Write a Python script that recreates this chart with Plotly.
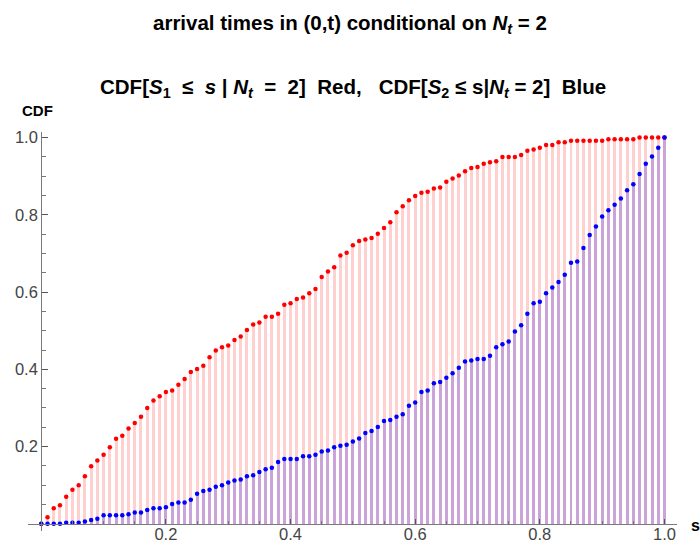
import plotly.graph_objects as go

# grid of s values in (0, 1)
s_vals = [round(i * 0.01, 2) for i in range(101)]

# empirical CDF of the first arrival S1 given N_t = 2
cdf_s1 = [
    0.000, 0.017, 0.040, 0.048, 0.070, 0.088, 0.100, 0.123, 0.149, 0.164,
    0.179, 0.198, 0.220, 0.228, 0.247, 0.261, 0.277, 0.300, 0.319, 0.330,
    0.341, 0.345, 0.360, 0.375, 0.393, 0.401, 0.409, 0.431, 0.449, 0.457,
    0.462, 0.476, 0.485, 0.502, 0.516, 0.521, 0.536, 0.536, 0.544, 0.567,
    0.571, 0.582, 0.586, 0.597, 0.608, 0.639, 0.653, 0.664, 0.695, 0.702,
    0.721, 0.732, 0.736, 0.740, 0.751, 0.766, 0.781, 0.807, 0.822, 0.838,
    0.849, 0.857, 0.860, 0.868, 0.871, 0.886, 0.894, 0.902, 0.913, 0.921,
    0.924, 0.932, 0.936, 0.939, 0.950, 0.950, 0.950, 0.955, 0.966, 0.969,
    0.974, 0.981, 0.981, 0.988, 0.988, 0.992, 0.992, 0.992, 0.992, 0.992,
    0.992, 0.996, 0.996, 0.996, 0.996, 0.996, 1.000, 1.000, 1.000, 1.000,
    1.000,
]

# empirical CDF of the second arrival S2 given N_t = 2
cdf_s2 = [
    0.000, 0.000, 0.000, 0.000, 0.003, 0.003, 0.003, 0.006, 0.010, 0.013,
    0.022, 0.022, 0.022, 0.022, 0.025, 0.029, 0.029, 0.036, 0.040, 0.040,
    0.043, 0.051, 0.055, 0.055, 0.062, 0.078, 0.085, 0.088, 0.096, 0.100,
    0.107, 0.112, 0.115, 0.123, 0.126, 0.134, 0.141, 0.145, 0.160, 0.168,
    0.168, 0.168, 0.175, 0.175, 0.179, 0.187, 0.190, 0.198, 0.202, 0.205,
    0.213, 0.221, 0.235, 0.240, 0.251, 0.266, 0.269, 0.277, 0.284, 0.306,
    0.314, 0.341, 0.345, 0.364, 0.367, 0.378, 0.390, 0.404, 0.420, 0.423,
    0.427, 0.427, 0.435, 0.457, 0.465, 0.472, 0.498, 0.514, 0.544, 0.571,
    0.575, 0.597, 0.612, 0.626, 0.645, 0.676, 0.679, 0.714, 0.748, 0.770,
    0.796, 0.812, 0.826, 0.842, 0.864, 0.879, 0.906, 0.932, 0.951, 0.974,
    1.000,
]

major_ticks = [0.2, 0.4, 0.6, 0.8, 1.0]
tick_text = ["0.2", "0.4", "0.6", "0.8", "1.0"]
minor_ticks = [round(i * 0.05, 2) for i in range(1, 21) if i % 4 != 0]

x_range = [-0.0213, 1.0201]
y_range = [-0.0186, 1.0145]

FONT = "Liberation Sans, Arial, sans-serif"
AXIS_COLOR = "#7a7a7a"
TICK_FONT = dict(family=FONT, size=16.5, color="#444444")

fig = go.Figure()

# filling from each point down to the axis
fig.add_trace(go.Bar(x=s_vals, y=cdf_s1, width=0.0048,
                     marker=dict(color="#ffd0d0", line=dict(width=0)),
                     hoverinfo="skip", showlegend=False))
fig.add_trace(go.Bar(x=s_vals, y=cdf_s2, width=0.0048,
                     marker=dict(color="#caa3d9", line=dict(width=0)),
                     hoverinfo="skip", showlegend=False))

# the points themselves
fig.add_trace(go.Scatter(x=s_vals, y=cdf_s1, mode="markers",
                         marker=dict(color="#ff0000", size=4.5),
                         cliponaxis=False, showlegend=False))
fig.add_trace(go.Scatter(x=s_vals, y=cdf_s2, mode="markers",
                         marker=dict(color="#0000ff", size=4.5),
                         cliponaxis=False, showlegend=False))

fig.update_layout(
    width=700, height=544,
    margin=dict(l=28, r=23, t=132, b=13),
    paper_bgcolor="white", plot_bgcolor="white",
    barmode="overlay", bargap=0,
    font=dict(family=FONT, size=16.5, color="#444444"),
    xaxis=dict(
        range=x_range, anchor="free", automargin=False,
        position=(0 - y_range[0]) / (y_range[1] - y_range[0]),
        showgrid=False, zeroline=False,
        showline=True, linecolor=AXIS_COLOR, linewidth=1.2,
        tickmode="array", tickvals=major_ticks, ticktext=tick_text,
        ticks="inside", ticklen=5, tickwidth=1.2, tickcolor="#555555",
        ticklabelstandoff=-5,
        minor=dict(tickmode="array", tickvals=minor_ticks, ticks="inside",
                   ticklen=3, tickwidth=1, tickcolor="#777777", showgrid=False),
        tickfont=TICK_FONT,
    ),
    yaxis=dict(
        range=y_range, anchor="free", automargin=False,
        position=(0 - x_range[0]) / (x_range[1] - x_range[0]),
        showgrid=False, zeroline=False,
        showline=True, linecolor=AXIS_COLOR, linewidth=1.2,
        tickmode="array", tickvals=major_ticks, ticktext=tick_text,
        ticks="inside", ticklen=6, tickwidth=1.2, tickcolor="#555555",
        minor=dict(tickmode="array", tickvals=minor_ticks, ticks="inside",
                   ticklen=3.5, tickwidth=1, tickcolor="#777777", showgrid=False),
        tickfont=TICK_FONT,
    ),
)

annotations = [
    dict(text="<b>arrival times in (0,t) conditional on <i>N<sub>t</sub></i> = 2</b>",
         x=0.496, y=1.27, size=20.5),
    dict(text="<b>CDF[<i>S</i><sub>1</sub>  ≤  <i>s</i> | <i>N<sub>t</sub></i>  =  2]  Red,"
              "   CDF[<i>S</i><sub>2</sub> ≤ s|<i>N<sub>t</sub></i> = 2]  Blue</b>",
         x=0.501, y=1.110, size=20.5),
    dict(text="<b>CDF</b>", x=0.0154, y=1.055, size=15),
    dict(text="<b>s</b>", x=1.029, y=0.015, size=16),
]
for a in annotations:
    fig.add_annotation(text=a["text"], x=a["x"], y=a["y"], xref="paper", yref="paper",
                       xanchor="center", yanchor="middle", showarrow=False,
                       font=dict(family=FONT, size=a["size"], color="#000000"))

fig.write_html("out.html")
